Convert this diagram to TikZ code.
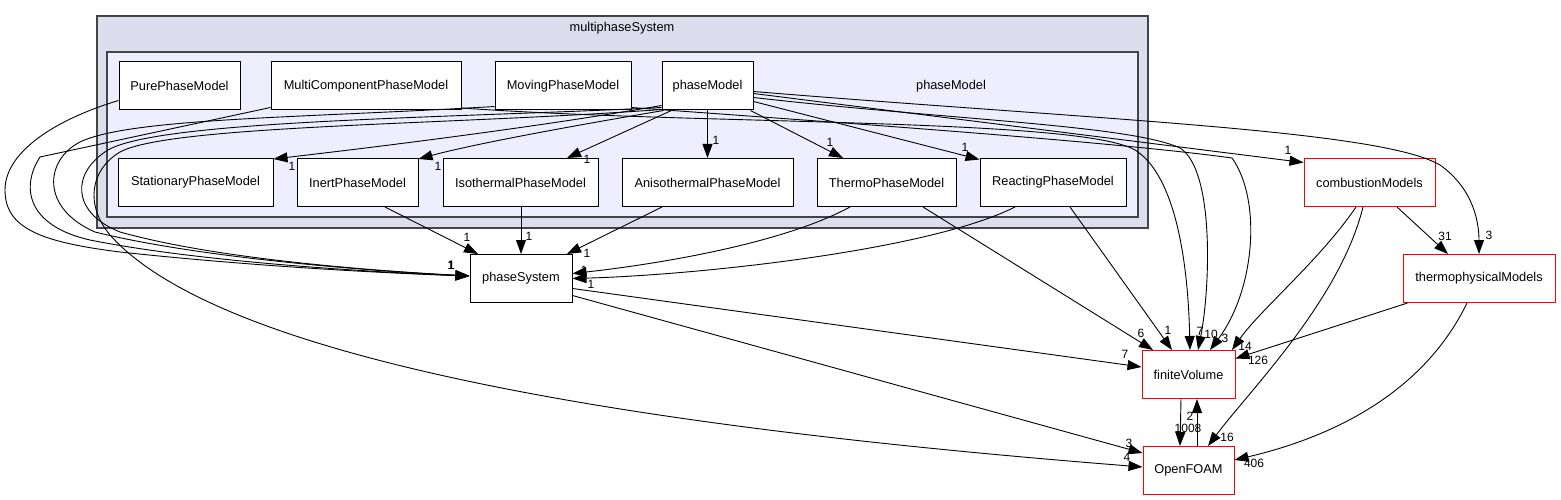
\documentclass[tikz,border=0pt]{standalone}
\usepackage{fontspec}
\setmainfont{Liberation Sans}
\usetikzlibrary{arrows.meta}
\definecolor{outerfill}{RGB}{221,221,238}
\definecolor{innerfill}{RGB}{238,238,255}
\definecolor{frameline}{RGB}{68,68,68}

\begin{document}
\begin{tikzpicture}[x=1pt, y=-1pt,
    every node/.style={font=\fontsize{12.8}{15}\selectfont},
    dirbox/.style={draw=black, fill=white, line width=1pt, minimum height=48pt, inner sep=0pt},
    extbox/.style={dirbox, draw=red},
    dep/.style={line width=0.9pt, -{Triangle[length=14pt, width=10pt]}},
    lbl/.style={inner sep=0pt, font=\fontsize{12}{14}\selectfont}]
  \useasboundingbox (0,0) rectangle (1561,500);
  \draw[frameline, fill=outerfill, line width=1.3pt] (97,16) rectangle (1148,228);
  \draw[frameline, fill=innerfill, line width=1.3pt] (107,52) rectangle (1138,217);
  \node (outerlabel) at (622,28) {multiphaseSystem};
  \node (innerlabel) at (951,86) {phaseModel};

  \foreach \n/\x/\y/\w/\t in {
    pure/179.5/86/121/PurePhaseModel,
    multi/366/86/190/MultiComponentPhaseModel,
    moving/563/86/136/MovingPhaseModel,
    phasemodel/707.5/86/91/phaseModel,
    stationary/195.5/182.5/155/StationaryPhaseModel,
    inert/357.5/182.5/121/InertPhaseModel,
    isothermal/520.5/182.5/155/IsothermalPhaseModel,
    aniso/707.5/182.5/171/AnisothermalPhaseModel,
    thermo/886.5/182.5/139/ThermoPhaseModel,
    reacting/1053/182.5/146/ReactingPhaseModel,
    phasesys/521/278.5/102/phaseSystem
  }{
    \node[dirbox, minimum width=\w pt] (\n) at (\x,\y) {\t};
  }
  \foreach \n/\x/\y/\w/\t in {
    combustion/1369.5/182.5/131/combustionModels,
    thermophys/1479/278.5/152/thermophysicalModels,
    finitevol/1188.5/374.5/93/finiteVolume,
    openfoam/1188.5/470.5/91/OpenFOAM
  }{
    \node[extbox, minimum width=\w pt] (\n) at (\x,\y) {\t};
  }

  % left bundle into phaseSystem
  \draw[dep] ([yshift=10pt]pure.south west) .. controls (60,118) and (5,150) .. (5,190)
    .. controls (5,228) and (40,242) .. (120,252) .. controls (250,266) and (380,273) .. ([yshift=2.5pt]phasesys.west);
  \draw[dep] ([yshift=3pt]multi.south west) -- (40,157) .. controls (20,188) and (28,226) .. (90,240)
    .. controls (200,262) and (370,272) .. ([yshift=2.5pt]phasesys.west);
  \draw[dep] ([yshift=4pt]moving.south west) .. controls (300,118) and (130,118) .. (80,142)
    .. controls (45,160) and (40,208) .. (95,232) .. controls (200,258) and (370,271) .. ([yshift=2.5pt]phasesys.west);
  \draw[dep] ([yshift=3pt]phasemodel.south west) .. controls (450,118) and (160,120) .. (108,150)
    .. controls (72,172) and (70,212) .. (120,232) .. controls (220,260) and (380,271) .. ([yshift=2.5pt]phasesys.west);
  \draw[dep] ([yshift=1pt]phasemodel.south west) .. controls (450,125) and (170,125) .. (120,152)
    .. controls (90,170) and (85,205) .. (110,235) .. controls (230,370) and (700,432) .. ([yshift=3.5pt]openfoam.west);

  % phaseModel to its neighbours
  \draw[dep] ([yshift=5pt]phasemodel.south west) .. controls (520,130) and (350,150) .. ([yshift=-1pt]stationary.north east);
  \draw[dep] ([xshift=2pt]phasemodel.south west) .. controls (560,128) and (470,145) .. ([yshift=-1pt]inert.north east);
  \draw[dep] ([xshift=10pt]phasemodel.south west) -- ([xshift=46.5pt]isothermal.north);
  \draw[dep] (phasemodel.south) -- (aniso.north);
  \draw[dep] ([xshift=-3pt]phasemodel.south east) -- ([xshift=-43.5pt]thermo.north);
  \draw[dep] ([yshift=9pt]phasemodel.south east) -- ([yshift=-1.5pt]reacting.north west);
  \draw[dep] ([yshift=17pt]phasemodel.south east) -- ([yshift=-4.5pt]combustion.north west);
  \draw[dep] ([yshift=19pt]phasemodel.south east) .. controls (1100,120) and (1380,130) .. (1440,165)
    .. controls (1475,190) and (1479,225) .. (thermophys.north);

  % long curves into finiteVolume
  \draw[dep] ([yshift=2.5pt]multi.south east) .. controls (700,125) and (1080,118) .. (1135,150)
    .. controls (1175,175) and (1188,260) .. ([xshift=1.5pt]finitevol.north);
  \draw[dep] ([yshift=13pt]phasemodel.south east) .. controls (950,120) and (1130,125) .. (1180,148)
    .. controls (1215,170) and (1210,290) .. ([xshift=9.5pt]finitevol.north);
  \draw[dep] ([yshift=3pt]moving.south east) .. controls (800,120) and (1100,140) .. (1232,158)
    .. controls (1262,200) and (1255,290) .. ([xshift=21.5pt]finitevol.north);

  % into phaseSystem from above and right
  \draw[dep] ([xshift=27.5pt]inert.south) -- ([xshift=-43pt]phasesys.north);
  \draw[dep] ([xshift=0.5pt]isothermal.south) -- (phasesys.north);
  \draw[dep] ([xshift=-45.5pt]aniso.south) -- ([xshift=46pt]phasesys.north);
  \draw[dep] ([xshift=-36.5pt]thermo.south) .. controls (780,245) and (650,265) .. ([yshift=5pt]phasesys.east);
  \draw[dep] ([xshift=-38pt]reacting.south) .. controls (930,250) and (700,275) .. (phasesys.east);

  % lower right
  \draw[dep] ([xshift=36.5pt]thermo.south) -- ([xshift=-35.5pt]finitevol.north);
  \draw[dep] ([xshift=17pt]reacting.south) -- ([xshift=-16.5pt]finitevol.north);
  \draw[dep] ([yshift=-10pt]phasesys.east) -- ([yshift=7.5pt]finitevol.west);
  \draw[dep] ([yshift=-17pt]phasesys.east) -- ([yshift=17.5pt]openfoam.west);
  \draw[dep] ([xshift=27.5pt]combustion.south) -- ([xshift=-31pt]thermophys.north);
  \draw[dep] ([xshift=-13.5pt]combustion.south) .. controls (1320,260) and (1260,310) .. ([xshift=43.5pt]finitevol.north);
  \draw[dep] ([xshift=-6.5pt]combustion.south) .. controls (1340,300) and (1250,390) .. ([xshift=19.5pt]openfoam.north);
  \draw[dep] ([xshift=5pt]thermophys.south west) -- ([yshift=16pt]finitevol.east);
  \draw[dep] ([xshift=-12pt]thermophys.south) .. controls (1420,400) and (1320,440) .. ([yshift=10.5pt]openfoam.east);
  \draw[dep] ([xshift=-7.5pt]finitevol.south) -- ([xshift=-8.5pt]openfoam.north);
  \draw[dep] ([xshift=8.5pt]openfoam.north) -- ([xshift=8.5pt]finitevol.south);

  \foreach \x/\y/\t [count=\i] in {
    451/265/1, 451/265/1, 451.5/265/1, 451.5/265/1,
    292/166/1, 438/166/1, 587/159/1, 716/140/1, 830/142/1, 965/147/1,
    1288/150/1, 1489/235/3, 1445/236/31,
    467/237/1, 529/236/1, 587/253/1, 584/270/1, 591/284/1,
    1141/333/6, 1168/330/1, 1200/331/7, 1211/334/10, 1225/338/3, 1245/346/14,
    1258/360/126, 1125/354/7,
    1129/443/3, 1127/457/4, 1190/416/2, 1188/428/1008, 1227/437/16, 1254/463/406
  }{
    \node[lbl] (lab\i) at (\x,\y) {\t};
  }
\end{tikzpicture}
\end{document}
